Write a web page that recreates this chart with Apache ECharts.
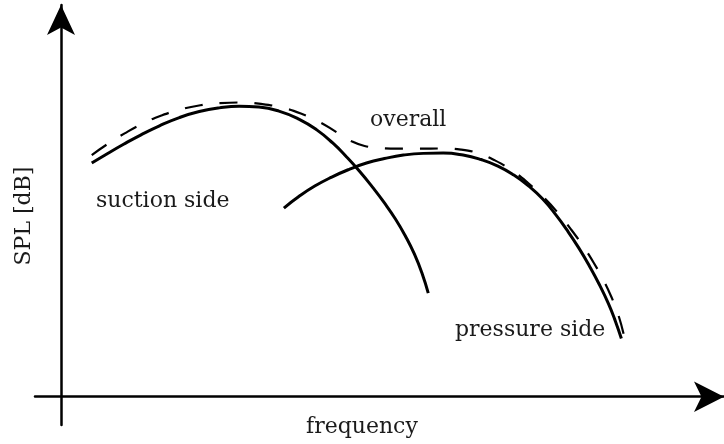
<!DOCTYPE html>
<html>
<head>
<meta charset="utf-8">
<script src="https://cdn.jsdelivr.net/npm/echarts@6/dist/echarts.min.js"></script>
<style>
html,body{margin:0;padding:0;background:#fff;}
#chart{width:724px;height:444px;}
</style>
</head>
<body>
<div id="chart"></div>
<script>
// Schematic data (arbitrary units): frequency vs SPL
var suctionFreq = [4.73, 7.18, 9.63, 12.24, 15.15, 18.21, 21.27, 24.34, 27.40, 30.46, 33.53, 36.59, 39.35, 41.80, 43.94, 45.93, 47.92, 49.76, 51.45, 52.98, 54.36, 55.58, 56.50];
var suctionSPL  = [62.04, 64.59, 67.03, 69.47, 71.94, 74.12, 75.71, 76.69, 77.12, 76.90, 75.84, 73.72, 70.85, 67.37, 63.66, 59.86, 55.64, 51.45, 47.20, 42.69, 37.91, 32.60, 27.50];

var pressureFreq = [34.29, 36.59, 39.04, 41.65, 44.25, 47.00, 49.76, 52.67, 55.74, 58.80, 61.86, 64.62, 67.22, 69.67, 71.97, 74.11, 76.11, 77.94, 79.63, 81.31, 82.84, 84.22, 85.29, 86.21];
var pressureSPL  = [50.09, 53.15, 55.93, 58.32, 60.31, 62.04, 63.23, 64.16, 64.61, 64.69, 64.16, 62.97, 61.24, 58.85, 55.93, 52.48, 48.34, 44.01, 39.58, 34.67, 29.73, 24.71, 20.07, 15.45];

var overallFreq = [4.73, 7.03, 9.79, 12.39, 15.45, 18.36, 21.43, 24.49, 27.71, 30.77, 33.99, 36.90, 39.81, 42.41, 44.71, 46.70, 49.00, 51.91, 54.97, 58.80, 61.55, 64.16, 66.76, 69.37, 71.82, 74.27, 76.41, 78.40, 80.24, 81.93, 83.46, 84.68, 85.76, 86.67];
var overallSPL  = [64.16, 66.95, 69.92, 72.36, 74.65, 76.27, 77.38, 77.97, 78.12, 77.75, 76.74, 75.18, 72.92, 70.21, 67.82, 66.58, 66.02, 65.86, 65.86, 65.91, 65.62, 64.64, 62.75, 60.05, 56.81, 52.91, 48.90, 44.57, 40.16, 35.65, 30.93, 26.47, 21.63, 15.85];

var xName = 'frequency';
var yName = 'SPL [dB]';
var labelSuction = 'suction side';
var labelPressure = 'pressure side';
var labelOverall = 'overall';

function zip(a, b) { return a.map(function (v, i) { return [v, b[i]]; }); }

var FONT = '22px "DejaVu Serif"';
var TXT = '#1a1a1a';

var chart = echarts.init(document.getElementById('chart'), null, {renderer: 'canvas'});
chart.setOption({
  animation: false,
  backgroundColor: '#fff',
  grid: {left: 35, right: -3, top: 5, bottom: 19, containLabel: false},
  xAxis: {
    type: 'value', min: -4, max: 102,
    splitLine: {show: false}, axisTick: {show: false}, axisLabel: {show: false},
    axisLine: {show: true, onZero: true, symbol: ['none', 'arrow'], symbolSize: [23, 30],
      lineStyle: {color: '#000', width: 2.5}}
  },
  yAxis: {
    type: 'value', min: -7.5, max: 104,
    splitLine: {show: false}, axisTick: {show: false}, axisLabel: {show: false},
    axisLine: {show: true, onZero: true, symbol: ['none', 'arrow'], symbolSize: [21, 30],
      lineStyle: {color: '#000', width: 2.5}}
  },
  series: [
    {type: 'line', name: labelOverall, data: zip(overallFreq, overallSPL), smooth: 0.5,
      showSymbol: false, silent: true,
      lineStyle: {color: '#000', width: 2.2, type: [18, 17]}},
    {type: 'line', name: labelSuction, data: zip(suctionFreq, suctionSPL), smooth: 0.5,
      showSymbol: false, silent: true,
      lineStyle: {color: '#000', width: 3}},
    {type: 'line', name: labelPressure, data: zip(pressureFreq, pressureSPL), smooth: 0.5,
      showSymbol: false, silent: true,
      lineStyle: {color: '#000', width: 3}}
  ],
  graphic: [
    {type: 'text', left: 96, top: 190, style: {text: labelSuction, font: FONT, fill: TXT}},
    {type: 'text', left: 455, top: 319, style: {text: labelPressure, font: FONT, fill: TXT}},
    {type: 'text', left: 370, top: 109, style: {text: labelOverall, font: FONT, fill: TXT}},
    {type: 'text', left: 306, top: 416, style: {text: xName, font: FONT, fill: TXT}},
    {type: 'text', x: 24, y: 216, rotation: Math.PI / 2,
      style: {text: yName, font: FONT, fill: TXT, align: 'center', verticalAlign: 'middle'}}
  ]
});
</script>
</body>
</html>
